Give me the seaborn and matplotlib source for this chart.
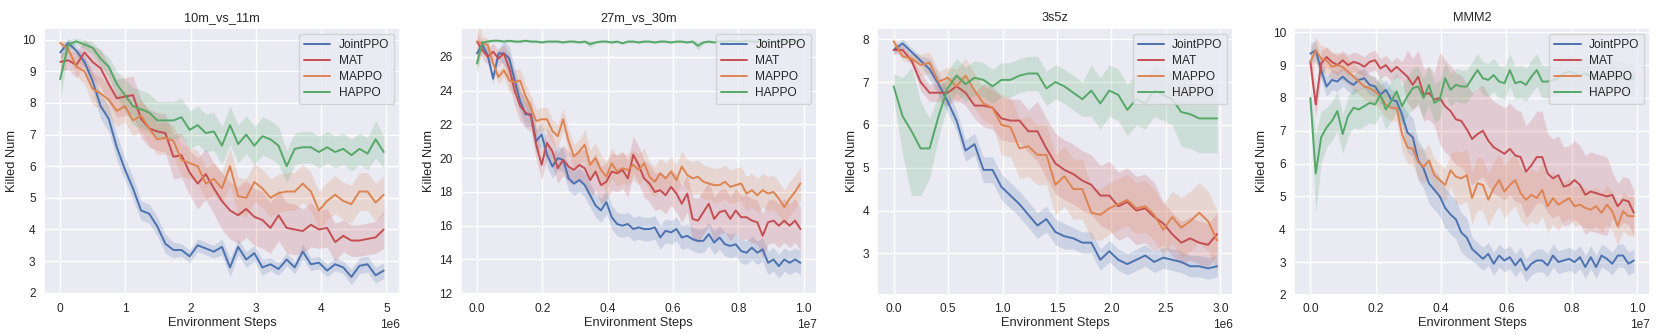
import numpy as np
import pandas as pd
import matplotlib
matplotlib.use("Agg")
import matplotlib.pyplot as plt
import seaborn as sns

algos = ["JointPPO", "MAT", "MAPPO", "HAPPO"]
colors = ["#4C72B0", "#C44E52", "#DD8452", "#55A868"]

# ---- 10m_vs_11m (x up to 4.96e6, 41 points)
m1_joint = [9.6, 9.9, 9.65, 9.3, 8.7, 7.9, 7.5, 6.6, 5.9, 5.3, 4.6, 4.5, 4.1, 3.55, 3.35, 3.35, 3.15, 3.5, 3.4, 3.3,
            3.45, 2.8, 3.45, 3.05, 3.25, 2.8, 2.9, 2.75, 3.05, 2.8, 3.3, 2.9, 2.95, 2.7, 2.9, 2.8, 2.5, 2.85, 2.9, 2.55, 2.7]
m1_mat = [9.3, 9.35, 9.2, 9.6, 9.3, 9.1, 8.6, 8.15, 8.2, 8.25, 7.5, 7.2, 7.1, 7.05, 6.3, 6.35, 5.8, 5.45, 5.75, 5.3,
          4.9, 4.6, 4.45, 4.65, 4.4, 4.3, 4.05, 4.45, 4.05, 4.0, 3.95, 4.15, 4.0, 4.05, 3.6, 3.8, 3.65, 3.65, 3.7, 3.75, 4.0]
m1_mappo = [9.9, 9.7, 9.15, 9.0, 8.45, 8.3, 8.1, 7.75, 7.9, 7.45, 7.6, 7.2, 6.85, 6.9, 6.8, 6.2, 6.1, 6.0, 5.45, 5.6,
            5.3, 6.0, 5.05, 5.0, 5.5, 5.3, 5.0, 5.15, 5.2, 5.2, 5.45, 5.2, 4.6, 4.9, 5.1, 4.9, 4.8, 5.2, 5.2, 4.85, 5.1]
m1_happo = [8.75, 9.85, 9.95, 9.85, 9.75, 9.4, 9.15, 8.6, 8.25, 7.9, 7.8, 7.7, 7.45, 7.45, 7.45, 7.55, 7.15, 7.3, 7.05, 7.1,
            6.65, 7.3, 6.7, 7.0, 6.65, 6.95, 6.85, 6.65, 6.0, 6.55, 6.6, 6.6, 6.45, 6.6, 6.45, 6.55, 6.35, 6.55, 6.4, 6.85, 6.45]
s1_joint = [0.2, 0.15, 0.15, 0.2, 0.3, 0.4, 0.4, 0.4, 0.35, 0.35, 0.3, 0.3, 0.3, 0.3, 0.25, 0.2, 0.2, 0.2, 0.2, 0.2,
            0.25, 0.3, 0.25, 0.25, 0.25, 0.25, 0.2, 0.2, 0.2, 0.2, 0.25, 0.2, 0.2, 0.2, 0.2, 0.2, 0.25, 0.25, 0.25, 0.25, 0.25]
s1_mat = [0.3, 0.3, 0.4, 0.4, 0.5, 0.6, 0.6, 0.6, 0.6, 0.6, 0.6, 0.6, 0.6, 0.6, 0.7, 0.7, 0.7, 0.8, 0.8, 0.8,
          0.9, 0.9, 0.9, 0.9, 0.9, 0.9, 0.8, 0.8, 0.8, 0.8, 0.7, 0.7, 0.6, 0.6, 0.6, 0.5, 0.5, 0.5, 0.5, 0.5, 0.6]
s1_mappo = [0.1, 0.2, 0.3, 0.4] + [0.5] * 17 + [0.6] * 20
s1_happo = [0.7, 0.15, 0.1, 0.15, 0.2, 0.25, 0.3, 0.4, 0.5] + [0.6] * 19 + [0.5] * 11 + [0.6, 0.5]

# ---- 27m_vs_30m (x up to 0.99e7, 61 points)
m2_joint = [26.2, 26.7, 26.1, 24.7, 26.2, 26.2, 25.9, 24.6, 23.4, 22.6, 22.6, 21.0, 21.4, 20.2, 19.5, 20.0, 19.9, 18.8, 18.5, 18.7,
            18.4, 17.8, 17.2, 16.9, 17.4, 16.5, 16.1, 16.0, 16.1, 15.8, 15.9, 15.8, 15.8, 15.9, 15.3, 15.7, 15.6, 15.8, 15.3, 15.4,
            15.2, 15.1, 15.1, 15.5, 15.0, 15.3, 14.9, 14.8, 14.9, 14.5, 14.4, 14.7, 14.4, 14.6, 13.8, 14.0, 13.6, 14.0, 13.8, 14.0, 13.8]
m2_mat = [26.9, 26.4, 26.0, 26.3, 25.9, 26.2, 25.3, 24.0, 23.1, 22.7, 22.5, 20.8, 19.6, 20.9, 20.4, 19.4, 19.9, 19.5, 19.3, 19.6,
          19.4, 18.7, 19.2, 18.4, 18.6, 19.2, 19.1, 19.3, 18.8, 20.2, 19.6, 18.8, 18.5, 18.0, 18.1, 17.8, 18.3, 17.9, 17.3, 17.9,
          16.4, 16.3, 16.8, 17.3, 16.4, 16.8, 16.9, 16.4, 16.9, 16.5, 16.5, 16.3, 16.2, 15.4, 16.2, 16.3, 16.0, 16.3, 16.0, 16.3, 15.8]
m2_mappo = [26.9, 26.8, 26.7, 25.6, 24.8, 25.2, 24.6, 24.5, 24.6, 23.7, 23.0, 22.2, 22.3, 22.3, 21.6, 21.3, 22.3, 21.0, 20.1, 20.4,
            20.8, 19.6, 20.0, 19.3, 18.9, 19.7, 19.2, 19.4, 19.3, 19.6, 19.3, 19.7, 18.9, 18.6, 19.1, 18.8, 19.2, 18.7, 19.5, 19.0,
            18.8, 18.9, 18.6, 18.5, 18.4, 18.4, 18.6, 18.3, 18.4, 18.5, 17.9, 18.1, 17.8, 18.1, 17.9, 18.0, 17.6, 17.1, 17.6, 18.0, 18.5]
m2_happo = [25.6, 26.85, 26.9, 26.95, 26.95, 26.9, 26.95, 26.9, 26.9, 26.95, 26.9, 26.9, 26.85, 26.9, 26.9, 26.9, 26.85, 26.9, 26.9, 26.85,
            26.9, 26.75, 26.85, 26.9, 26.9, 26.85, 26.9, 26.8, 26.9, 26.9, 26.85, 26.9, 26.9, 26.85, 26.9, 26.9, 26.85, 26.9, 26.9, 26.85,
            26.9, 26.65, 26.85, 26.9, 26.85, 26.9, 26.9, 26.95, 26.9, 26.9, 26.95, 26.9, 26.9, 26.95, 26.9, 26.9, 26.95, 26.9, 26.9, 26.95, 26.9]
s2_joint = [0.3] * 5 + [0.7] * 56
s2_mat = [0.5] * 6 + [0.9] * 14 + [1.1] * 20 + [1.3] * 21
s2_mappo = [1.8] + [0.4] * 5 + [0.7] * 14 + [0.9] * 20 + [1.0] * 21
s2_happo = [0.6] + [0.08] * 20 + [0.2] + [0.08] * 19 + [0.25] + [0.08] * 19

# ---- 3s5z (x up to 2.97e6, 37 points)
m3_joint = [7.75, 7.9, 7.7, 7.5, 7.3, 6.95, 6.55, 6.1, 5.4, 5.55, 4.95, 4.95, 4.55, 4.35, 4.15, 3.9, 3.65, 3.8, 3.5, 3.4,
            3.35, 3.25, 3.25, 2.85, 3.05, 2.85, 2.75, 2.85, 2.95, 2.8, 2.9, 2.85, 2.8, 2.7, 2.7, 2.65, 2.7]
m3_mat = [7.75, 7.75, 7.5, 7.0, 6.75, 6.75, 6.75, 6.9, 6.75, 6.45, 6.45, 6.4, 6.15, 6.1, 6.1, 5.85, 5.85, 5.45, 5.1, 4.95,
          4.85, 4.7, 4.6, 4.35, 4.35, 4.1, 4.2, 4.0, 4.05, 3.85, 3.7, 3.45, 3.25, 3.35, 3.25, 3.2, 3.45]
m3_mappo = [7.95, 7.6, 7.55, 7.4, 7.45, 7.0, 7.1, 6.9, 7.15, 6.8, 6.5, 6.4, 6.0, 5.95, 5.45, 5.5, 5.3, 5.3, 4.6, 4.8,
            4.5, 4.5, 3.95, 3.9, 4.05, 4.15, 4.25, 4.05, 4.1, 3.9, 3.55, 3.85, 3.6, 3.75, 3.95, 3.75, 3.3]
m3_happo = [6.9, 6.2, 5.85, 5.45, 5.45, 6.2, 6.85, 7.15, 6.95, 7.1, 7.05, 6.9, 7.05, 7.05, 7.15, 7.2, 7.2, 6.85, 7.0, 6.9,
            6.75, 6.6, 6.8, 6.5, 6.8, 6.7, 6.35, 6.6, 6.5, 6.8, 6.7, 6.6, 6.3, 6.25, 6.15, 6.15, 6.15]
s3_joint = [0.1] * 4 + [0.25] * 6 + [0.3] * 10 + [0.25] * 17
s3_mat = [0.1] * 3 + [0.2] * 3 + [0.3] * 4 + [0.5] * 6 + [0.7] * 8 + [0.8] * 6 + [0.5] * 7
s3_mappo = [0.1] * 3 + [0.25] * 4 + [0.4] * 5 + [0.7] * 10 + [0.6] * 10 + [0.7] * 5
s3_happo = [0.3, 0.9, 1.5, 1.1, 0.7, 0.5] + [0.4] * 16 + [0.6] * 10 + [0.8] * 5

# ---- MMM2 (x up to 0.99e7, 61 points)
m4_joint = [9.35, 9.45, 8.85, 8.35, 8.55, 8.5, 8.65, 8.5, 8.4, 8.55, 8.6, 8.4, 8.35, 8.1, 8.25, 7.95, 7.9, 7.5, 6.95, 6.8,
            6.1, 5.85, 5.4, 5.2, 5.0, 4.65, 4.45, 4.3, 3.9, 3.75, 3.4, 3.25, 3.1, 3.25, 2.95, 3.2, 3.05, 3.15, 2.9, 3.1,
            2.75, 2.95, 3.05, 3.05, 2.9, 3.2, 3.0, 3.05, 3.1, 3.0, 3.15, 2.85, 3.15, 2.85, 3.2, 3.1, 2.95, 3.2, 3.2, 2.95, 3.05]
m4_mat = [9.1, 7.8, 9.05, 9.25, 9.1, 9.0, 9.15, 9.0, 9.1, 9.05, 8.95, 9.1, 9.15, 8.9, 9.0, 8.8, 8.95, 8.8, 8.65, 8.4,
          8.65, 8.1, 8.15, 7.95, 8.0, 7.75, 7.6, 7.35, 7.3, 7.05, 6.75, 6.9, 7.0, 6.7, 6.5, 6.4, 6.3, 6.45, 6.25, 6.2,
          5.75, 5.95, 6.2, 6.2, 5.7, 5.55, 5.65, 5.3, 5.35, 5.5, 5.35, 5.05, 5.15, 5.1, 5.05, 5.0, 5.05, 4.7, 4.9, 4.85, 4.5]
m4_mappo = [9.1, 9.45, 9.2, 9.15, 8.95, 9.0, 8.95, 8.8, 8.65, 8.5, 8.35, 8.3, 8.2, 8.05, 7.8, 7.7, 7.7, 6.9, 6.5, 6.45,
            6.05, 5.9, 6.1, 5.65, 5.5, 5.35, 5.8, 5.6, 5.55, 5.65, 4.95, 5.4, 5.35, 4.9, 5.25, 5.5, 5.15, 5.35, 5.5, 5.1,
            4.9, 5.05, 4.95, 5.2, 4.7, 4.95, 4.75, 4.85, 4.95, 4.7, 4.75, 4.65, 4.6, 4.7, 4.5, 4.75, 4.55, 4.1, 4.55, 4.4, 4.4]
m4_happo = [8.0, 5.7, 6.8, 7.1, 7.3, 7.6, 6.9, 7.45, 7.7, 7.65, 7.75, 7.85, 7.8, 8.1, 7.65, 7.9, 8.2, 7.75, 8.05, 8.3,
            8.35, 8.0, 8.4, 7.85, 7.95, 8.6, 8.25, 8.4, 8.35, 8.35, 8.6, 8.85, 8.6, 8.55, 8.7, 8.5, 8.45, 8.85, 8.45, 8.5,
            8.4, 8.65, 8.85, 8.5, 8.5, 8.55, 8.6, 8.75, 8.8, 8.75, 8.7, 8.75, 8.65, 8.7, 8.65, 8.75, 8.7, 8.6, 8.6, 8.55, 8.6]
s4_joint = [0.3] * 18 + [0.6] * 12 + [0.35] * 31
s4_mat = [0.4] * 3 + [0.3] * 15 + [0.8] * 6 + [1.4] * 20 + [1.2] * 12 + [0.7] * 5
s4_mappo = [0.4] * 17 + [0.5] * 10 + [0.8] * 20 + [0.6] * 14
s4_happo = [0.3, 1.2, 0.8] + [0.6] * 22 + [0.5] * 36

titles = ["10m_vs_11m", "27m_vs_30m", "3s5z", "MMM2"]
x_end = [4.96e6, 0.99e7, 2.97e6, 0.99e7]
means = [
    [m1_joint, m1_mat, m1_mappo, m1_happo],
    [m2_joint, m2_mat, m2_mappo, m2_happo],
    [m3_joint, m3_mat, m3_mappo, m3_happo],
    [m4_joint, m4_mat, m4_mappo, m4_happo],
]
spreads = [
    [s1_joint, s1_mat, s1_mappo, s1_happo],
    [s2_joint, s2_mat, s2_mappo, s2_happo],
    [s3_joint, s3_mat, s3_mappo, s3_happo],
    [s4_joint, s4_mat, s4_mappo, s4_happo],
]
ylims = [(1.93, 10.37), (11.9, 27.7), (2.03, 8.26), (2.0, 10.13)]
yticks = [range(2, 11), range(12, 27, 2), range(3, 9), range(2, 11)]

sns.set_theme(style="darkgrid")
plt.rcParams["font.family"] = ["Liberation Sans", "DejaVu Sans"]

fig, axes = plt.subplots(1, 4, figsize=(16.61, 3.34), dpi=100)
fig.subplots_adjust(left=0.0265, right=0.9934, top=0.916, bottom=0.117, wspace=0.171)

for i, ax in enumerate(axes):
    for name, color, m, s in zip(algos, colors, means[i], spreads[i]):
        m = np.array(m)
        s = np.array(s)
        x = np.linspace(0, x_end[i], len(m))
        df = pd.DataFrame({"step": x, "killed": m})
        sns.lineplot(data=df, x="step", y="killed", ax=ax, color=color, label=name, linewidth=1.4)
        ax.fill_between(x, m - s, m + s, color=color, alpha=0.2, linewidth=0)
    ax.set_ylim(*ylims[i])
    ax.set_yticks(list(yticks[i]))
    ax.set_title(titles[i], fontsize=9.2, pad=5)
    ax.set_xlabel("Environment Steps", fontsize=9.3, labelpad=1)
    ax.set_ylabel("Killed Num", fontsize=9.3, labelpad=3)
    ax.tick_params(labelsize=8.6, length=0, pad=6)
    ax.xaxis.get_offset_text().set_fontsize(8.6)
    ax.legend(loc="upper right", fontsize=8.6, borderaxespad=0.5, handlelength=2.2,
              handletextpad=0.7, labelspacing=0.35)

fig.savefig("out.png", dpi=100)
